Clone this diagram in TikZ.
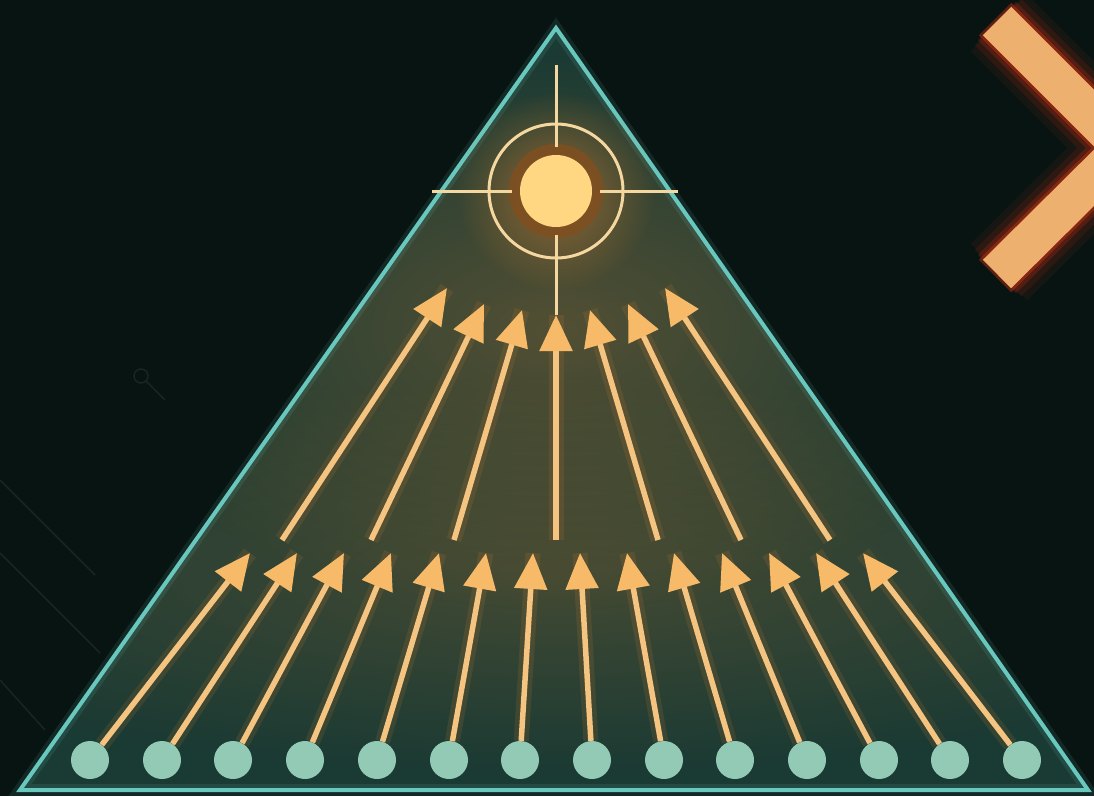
\documentclass[tikz,border=0pt]{standalone}
\usetikzlibrary{arrows.meta,fadings}
\definecolor{bgc}{RGB}{8,20,18}
\definecolor{faintc}{RGB}{24,38,35}
\definecolor{trifill}{RGB}{26,58,52}
\definecolor{edgec}{RGB}{104,200,190}
\definecolor{dotc}{RGB}{146,202,182}
\definecolor{rayc}{RGB}{244,196,128}
\definecolor{headc}{RGB}{246,186,104}
\definecolor{glowc}{RGB}{214,130,50}
\definecolor{sunc}{RGB}{255,214,130}
\definecolor{hairc}{RGB}{245,215,160}
\definecolor{chevc}{RGB}{238,176,110}
\definecolor{chevglow}{RGB}{196,48,20}
\tikzfading[name=softglow, inner color=transparent!0, outer color=transparent!100]
\begin{document}
\begin{tikzpicture}[x=1pt,y=-1pt,>={Triangle[length=36pt,width=32pt,fill=headc,color=headc]},
	  dot/.style={circle,fill=dotc,minimum size=38pt,inner sep=0pt},
	  ray/.style={->,draw=rayc,line width=5.5pt,
	    preaction={-,draw=glowc,line width=15pt,opacity=0.14}},
	  hair/.style={draw=hairc,line width=3pt},
	  chevglowline/.style={draw=chevglow,line join=miter}]
	  \useasboundingbox (0,0) rectangle (1094,796);
	  \clip (0,0) rectangle (1094,796);
	  \fill[bgc] (0,0) rectangle (1094,796);
	  % faint marks in the background
	  \draw[faintc,line width=1.5pt] (0,480) -- (95,575);
	  \draw[faintc,line width=1.5pt] (0,553) -- (100,653);
	  \draw[faintc,line width=1.5pt] (0,680) -- (45,730);
	  \draw[faintc,line width=1.5pt] (141,376) circle (7);
	  \draw[faintc,line width=1.5pt] (146,381) -- (165,400);
	  % pyramid
	  \fill[trifill] (556,28) -- (1088,790) -- (20,790) -- cycle;
	  \begin{scope}
	    \clip (556,28) -- (1088,790) -- (20,790) -- cycle;
	    \fill[glowc,path fading=softglow,fill opacity=0.3] (556,330) ellipse (480 and 280);
	    \fill[glowc,path fading=softglow,fill opacity=0.22] (556,575) ellipse (760 and 200);
	  \end{scope}
	  \draw[edgec,line width=4pt,line join=miter,
	    preaction={draw=edgec,line width=12pt,opacity=0.12}]
	    (556,28) -- (1088,790) -- (20,790) -- cycle;
	  % eye
	  \fill[glowc,path fading=softglow,fill opacity=0.55] (556,191) circle (100);
	  \fill[glowc!60!black,opacity=0.8] (556,191) circle (47);
	  \node[circle,fill=sunc,minimum size=72pt,inner sep=0pt] (sun) at (556,191) {};
	  \draw[hair] (sun) circle (67);
	  \draw[hair] (556,65) -- (556,147);
	  \draw[hair] (556,235) -- (556,315);
	  \draw[hair] (432,191) -- (512,191);
	  \draw[hair] (600,191) -- (678,191);
	  % upper rays
	  \coordinate (ub1) at (282,540); \coordinate (ut1) at (447,288);
	  \coordinate (ub2) at (371,540); \coordinate (ut2) at (484,304);
	  \coordinate (ub3) at (454,540); \coordinate (ut3) at (522,310);
	  \coordinate (ub4) at (556,540); \coordinate (ut4) at (556,315);
	  \coordinate (ub5) at (658,540); \coordinate (ut5) at (590,310);
	  \coordinate (ub6) at (741,540); \coordinate (ut6) at (628,304);
	  \coordinate (ub7) at (830,540); \coordinate (ut7) at (665,288);
	  \draw[ray] (ub1) -- (ut1);
	  \draw[ray] (ub2) -- (ut2);
	  \draw[ray] (ub3) -- (ut3);
	  \draw[ray] (ub4) -- (ut4);
	  \draw[ray] (ub5) -- (ut5);
	  \draw[ray] (ub6) -- (ut6);
	  \draw[ray] (ub7) -- (ut7);
	  % base points
	  \node[dot] (d1) at (90,760) {};
	  \node[dot] (d2) at (162,760) {};
	  \node[dot] (d3) at (233,760) {};
	  \node[dot] (d4) at (305,760) {};
	  \node[dot] (d5) at (377,760) {};
	  \node[dot] (d6) at (449,760) {};
	  \node[dot] (d7) at (520,760) {};
	  \node[dot] (d8) at (592,760) {};
	  \node[dot] (d9) at (664,760) {};
	  \node[dot] (d10) at (735,760) {};
	  \node[dot] (d11) at (807,760) {};
	  \node[dot] (d12) at (879,760) {};
	  \node[dot] (d13) at (950,760) {};
	  \node[dot] (d14) at (1022,760) {};
	  \coordinate (t1) at (250,553);
	  \coordinate (t2) at (297,553);
	  \coordinate (t3) at (344,553);
	  \coordinate (t4) at (391,553);
	  \coordinate (t5) at (439,553);
	  \coordinate (t6) at (486,553);
	  \coordinate (t7) at (533,553);
	  \coordinate (t8) at (580,553);
	  \coordinate (t9) at (627,553);
	  \coordinate (t10) at (674,553);
	  \coordinate (t11) at (722,553);
	  \coordinate (t12) at (769,553);
	  \coordinate (t13) at (816,553);
	  \coordinate (t14) at (863,553);
	  \draw[ray] (d1) -- (t1);
	  \draw[ray] (d2) -- (t2);
	  \draw[ray] (d3) -- (t3);
	  \draw[ray] (d4) -- (t4);
	  \draw[ray] (d5) -- (t5);
	  \draw[ray] (d6) -- (t6);
	  \draw[ray] (d7) -- (t7);
	  \draw[ray] (d8) -- (t8);
	  \draw[ray] (d9) -- (t9);
	  \draw[ray] (d10) -- (t10);
	  \draw[ray] (d11) -- (t11);
	  \draw[ray] (d12) -- (t12);
	  \draw[ray] (d13) -- (t13);
	  \draw[ray] (d14) -- (t14);
	  % chevron
	  \draw[chevglowline,line width=80pt,opacity=0.08] (999,23) -- (1124,148) -- (999,272);
	  \draw[chevglowline,line width=66pt,opacity=0.14] (998,22) -- (1124,148) -- (998,273);
	  \draw[chevglowline,line width=54pt,opacity=0.25] (997,21) -- (1124,148) -- (997,274);
	  \draw[chevglowline,line width=46pt,opacity=0.45] (995,19) -- (1124,148) -- (995,276);
	  \draw[chevc,line width=40pt,line join=miter] (997,21) -- (1124,148) -- (997,274);
	\end{tikzpicture}
\end{document}
